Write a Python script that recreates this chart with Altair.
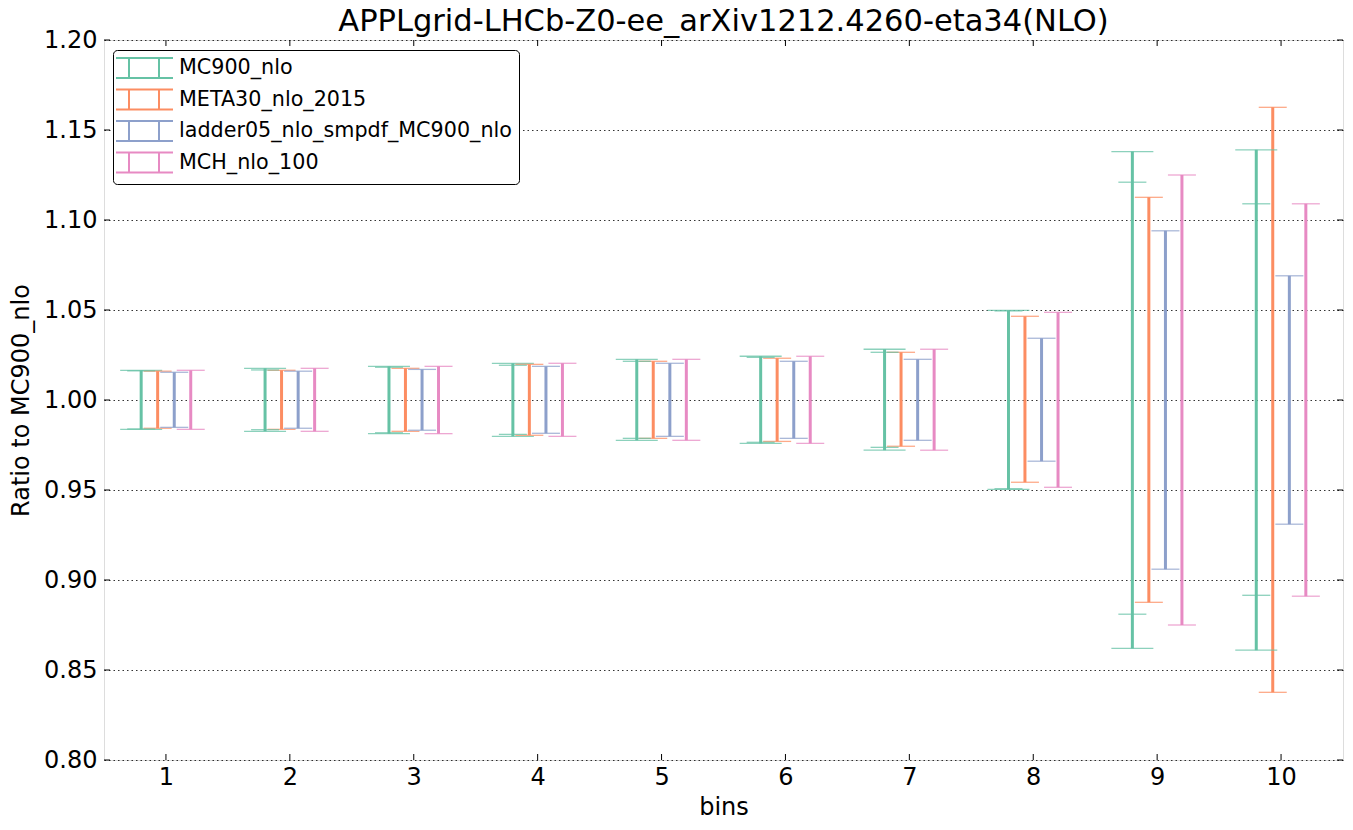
import altair as alt
import pandas as pd

bins = list(range(1, 11))
series = ["MC900_nlo", "META30_nlo_2015", "ladder05_nlo_smpdf_MC900_nlo", "MCH_nlo_100"]
colors = ["#66c2a5", "#fc8d62", "#8da0cb", "#e78ac3"]

# upper / lower ends of each error bar, per bin
mc900_hi = [1.0165, 1.0176, 1.0187, 1.0204, 1.0226, 1.0243, 1.0282, 1.0498, 1.138, 1.139]
mc900_lo = [0.9837, 0.9826, 0.9813, 0.9798, 0.9776, 0.9759, 0.9721, 0.9504, 0.862, 0.861]
mc900_in_hi = [1.0162, 1.0167, 1.0182, 1.0193, 1.0215, 1.0237, 1.0265, 1.0495, 1.121, 1.109]
mc900_in_lo = [0.9839, 0.9835, 0.9818, 0.9809, 0.9787, 0.9765, 0.9737, 0.9507, 0.881, 0.8915]
meta_hi = [1.0160, 1.0165, 1.0176, 1.0198, 1.0215, 1.0232, 1.0265, 1.0465, 1.1126, 1.1626]
meta_lo = [0.9843, 0.9837, 0.9826, 0.9804, 0.9787, 0.9770, 0.9743, 0.9543, 0.8876, 0.8376]
ladder_hi = [1.0154, 1.0160, 1.0170, 1.0187, 1.0204, 1.0215, 1.0226, 1.0343, 1.094, 1.069]
ladder_lo = [0.9848, 0.9843, 0.9832, 0.9815, 0.9798, 0.9787, 0.9776, 0.9660, 0.906, 0.931]
mch_hi = [1.0165, 1.0176, 1.0187, 1.0204, 1.0226, 1.0243, 1.0282, 1.0487, 1.125, 1.109]
mch_lo = [0.9837, 0.9826, 0.9813, 0.9798, 0.9776, 0.9759, 0.9721, 0.9515, 0.875, 0.891]

yticks = [0.80, 0.85, 0.90, 0.95, 1.00, 1.05, 1.10, 1.15, 1.20]

offsets = {series[0]: -0.2, series[1]: -0.067, series[2]: 0.067, series[3]: 0.2}

rows = []
for s, hi, lo in zip(series, [mc900_hi, meta_hi, ladder_hi, mch_hi], [mc900_lo, meta_lo, ladder_lo, mch_lo]):
    for b, h, l in zip(bins, hi, lo):
        rows.append({"bin": b, "series": s, "hi": h, "lo": l, "xpos": b + offsets[s]})
df = pd.DataFrame(rows)

inner = pd.DataFrame({"bin": bins, "series": series[0], "hi": mc900_in_hi, "lo": mc900_in_lo})
inner["xpos"] = inner["bin"] + offsets[series[0]]

W, H = 1239, 720
FONT = "DejaVu Sans"

xs = alt.Scale(domain=[0.5, 10.5], nice=False, zero=False)
ys = alt.Scale(domain=[0.8, 1.2], nice=False, zero=False)
cs = alt.Scale(domain=series, range=colors)

legend_path = "M-1.5,-1L4.2,-1M-1.5,1L4.2,1M-0.2,-1L-0.2,1M2.8,-1L2.8,1"

legend = alt.Legend(
    title=None, orient="none", legendX=9, legendY=10,
    symbolType=legend_path, symbolSize=400, symbolStrokeWidth=2,
    symbolFillColor="transparent", symbolOpacity=1,
    labelFontSize=20.7, labelFont=FONT, labelOffset=37, labelLimit=1000,
    padding=7, rowPadding=3.5, fillColor="white", strokeColor="black",
    cornerRadius=4,
)

base = alt.Chart(df)

bars = base.mark_rule(strokeWidth=3).encode(
    x=alt.X("xpos:Q", scale=xs, axis=alt.Axis(
        title="bins", values=bins, format="d", grid=False, domain=False, ticks=False,
        labelFontSize=24, labelFont=FONT, labelPadding=5, labelColor="black",
        titleFontSize=24, titleFont=FONT, titleFontWeight="normal", titlePadding=6, titleColor="black")),
    y=alt.Y("lo:Q", scale=ys, axis=alt.Axis(
        title="Ratio to MC900_nlo", values=yticks, format=".2f", grid=True,
        gridColor="black", gridDash=[1.5, 3], gridOpacity=0.8, gridWidth=1,
        domain=False, ticks=False,
        labelFontSize=24, labelFont=FONT, labelPadding=7, labelColor="black",
        titleFontSize=24, titleFont=FONT, titleFontWeight="normal", titlePadding=10, titleColor="black")),
    y2="hi:Q",
    color=alt.Color("series:N", scale=cs, legend=legend),
)


def caps(chart, field, width, filt=None):
    c = chart
    if filt is not None:
        c = c.transform_filter(filt)
    return c.mark_tick(orient="horizontal", thickness=1.3, opacity=0.75, size=width).encode(
        x=alt.X("xpos:Q", scale=xs), y=alt.Y(f"{field}:Q", scale=ys),
        color=alt.Color("series:N", scale=cs, legend=None),
    )


is_mc = alt.datum.series == series[0]
not_mc = alt.datum.series != series[0]
ib = alt.Chart(inner)
cap_layers = [
    caps(base, "hi", 42, is_mc), caps(base, "lo", 42, is_mc),
    caps(base, "hi", 28, not_mc), caps(base, "lo", 28, not_mc),
    caps(ib, "hi", 28), caps(ib, "lo", 28),
]

# inward axis ticks (matplotlib classic style)
ytk = alt.Chart(pd.DataFrame({"v": yticks}))
xtk = alt.Chart(pd.DataFrame({"b": bins}))
tl = ytk.mark_rule(color="black", strokeWidth=1).encode(
    y=alt.Y("v:Q", scale=ys), x=alt.value(0), x2=alt.value(6))
tr = ytk.mark_rule(color="black", strokeWidth=1).encode(
    y=alt.Y("v:Q", scale=ys), x=alt.value(W - 6), x2=alt.value(W))
tb = xtk.mark_rule(color="black", strokeWidth=1).encode(
    x=alt.X("b:Q", scale=xs), y=alt.value(H - 6), y2=alt.value(H))
tt = xtk.mark_rule(color="black", strokeWidth=1).encode(
    x=alt.X("b:Q", scale=xs), y=alt.value(0), y2=alt.value(6))

chart = alt.layer(bars, *cap_layers, tl, tr, tb, tt).properties(
    width=W, height=H,
    title=alt.Title("APPLgrid-LHCb-Z0-ee_arXiv1212.4260-eta34(NLO)", fontSize=30.5,
                    font=FONT, fontWeight="normal", color="black", anchor="middle",
                    baseline="alphabetic", offset=-33),
    autosize=alt.AutoSizeParams(type="none"),
    padding={"left": 96, "top": 32, "right": 2, "bottom": 60},
).configure_view(stroke="black", strokeWidth=1).configure(background="white")

chart.save("out.html", embed_options={"renderer": "svg", "actions": False})
